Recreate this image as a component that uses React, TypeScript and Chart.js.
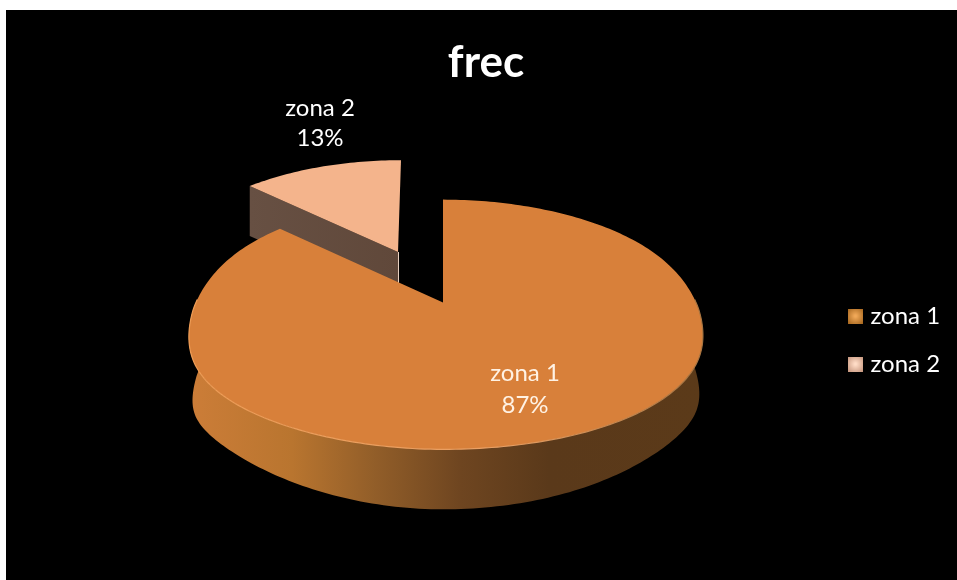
import React, { useEffect, useRef } from "react";
import { Chart, registerables } from "chart.js";

Chart.register(...registerables);

const categories = ["zona 1", "zona 2"];
const shares = [87, 13];
const chartTitle = "frec";
const sliceColors = ["#D8803A", "#F4B48C"];
const labelColors = ["#FFF2E4", "#FFFFFF"];

const FONT = "Lato, 'Open Sans', sans-serif";
const K = 0.176;

type Proj = { x: number; y: number; a: number; b: number; d: number; bend: number; shear: number; full: number };
const mainProj: Proj = { x: 437, y: 292.5, a: 253, b: 121, d: 46, bend: 3, shear: 0, full: 1 };
const sideProj: Proj = { x: 392, y: 242, a: 231, b: 108, d: 50, bend: 0, shear: -3, full: 0 };

function pt(p: Proj, u: number, v: number, down = 0): [number, number] {
  const w = 1 - K * v;
  const shrink = 1 - 0.014 * down * p.full;
  const fv = Math.max(v, 0);
  const fuller = p.full * fv * (u > 0 ? 16 * u * u : 18 * Math.abs(u * u * u));
  const bump = p.full * 9 * u * u * Math.exp(-((v - 0.2) * (v - 0.2)) / 0.25);
  const flank = p.full * (u > 0 ? 14 : 20) * Math.pow(Math.abs(u), 8);
  const depth = down * (p.d + p.full * 14 * fv * fv * fv + flank);
  return [
    p.x + ((p.a * u) / w) * shrink + p.bend * u * u + p.shear * v,
    p.y + (p.b * v) / w + fuller + bump + depth,
  ];
}

function rim(p: Proj, from: number, to: number, down = 0) {
  const n = Math.max(4, Math.ceil(Math.abs(to - from) / 0.02));
  const out: [number, number][] = [];
  for (let i = 0; i <= n; i++) {
    const t = from + ((to - from) * i) / n;
    out.push(pt(p, Math.cos(t), Math.sin(t), down));
  }
  return out;
}

function poly(ctx: CanvasRenderingContext2D, pts: [number, number][]) {
  ctx.beginPath();
  pts.forEach((q, i) => (i ? ctx.lineTo(q[0], q[1]) : ctx.moveTo(q[0], q[1])));
  ctx.closePath();
}

const pie3d = {
  id: "pie3d",
  beforeDatasetDraw(chart: any) {
    const ctx: CanvasRenderingContext2D = chart.ctx;
    const arcs = chart.getDatasetMeta(0).data;
    const big = arcs[0];
    const small = arcs[1];

    // detached slice, drawn behind the main body
    const s0 = small.startAngle;
    const s1 = small.endAngle;
    const tip = pt(sideProj, 0, 0);
    const left = pt(sideProj, Math.cos(s0), Math.sin(s0));
    const leftD = pt(sideProj, Math.cos(s0), Math.sin(s0), 1);
    const tipD = pt(sideProj, 0, 0, 1);
    const wg = ctx.createLinearGradient(left[0], 0, tip[0], 0);
    wg.addColorStop(0, "#675043");
    wg.addColorStop(1, "#60483A");
    poly(ctx, [left, tip, tipD, leftD]);
    ctx.fillStyle = wg;
    ctx.fill();
    poly(ctx, [tip, ...rim(sideProj, s1, s0)]);
    ctx.fillStyle = sliceColors[1];
    ctx.fill();
    ctx.strokeStyle = "#E8D0C0";
    ctx.lineWidth = 1;
    ctx.beginPath();
    ctx.moveTo(tip[0] + 0.5, tip[1]);
    ctx.lineTo(tipD[0] + 0.5, tipD[1]);
    ctx.stroke();

    // main body: front wall
    const front = rim(mainProj, -0.08, Math.PI + 0.08);
    const frontD = rim(mainProj, -0.08, Math.PI + 0.08, 1).reverse();
    const g = ctx.createLinearGradient(183, 0, 697, 0);
    g.addColorStop(0, "#CC7D38");
    g.addColorStop(0.2, "#B9752F");
    g.addColorStop(0.36, "#925E29");
    g.addColorStop(0.53, "#6E4520");
    g.addColorStop(0.7, "#5A391A");
    g.addColorStop(1, "#5B3A19");
    poly(ctx, [...front, ...frontD]);
    ctx.fillStyle = g;
    ctx.fill();

    // main body: top face
    poly(ctx, [pt(mainProj, 0, 0), ...rim(mainProj, big.startAngle, big.endAngle)]);
    ctx.fillStyle = sliceColors[0];
    ctx.fill();

    // light edge on the front rim
    const eg = ctx.createLinearGradient(183, 0, 697, 0);
    eg.addColorStop(0, "#EE9C55");
    eg.addColorStop(0.6, "#E9A065");
    eg.addColorStop(1, "#A87440");
    ctx.beginPath();
    front.forEach((q, i) => (i ? ctx.lineTo(q[0], q[1]) : ctx.moveTo(q[0], q[1])));
    ctx.strokeStyle = eg;
    ctx.lineWidth = 1.2;
    ctx.stroke();
    return false;
  },
  afterDatasetsDraw(chart: any) {
    const ctx: CanvasRenderingContext2D = chart.ctx;
    const total = shares.reduce((a, b) => a + b, 0);
    const spots = [
      { x: 519, y1: 363, y2: 395 },
      { x: 314, y1: 98, y2: 128 },
    ];
    ctx.save();
    ctx.font = `24px ${FONT}`;
    ctx.textAlign = "center";
    ctx.textBaseline = "middle";
    categories.forEach((c, i) => {
      ctx.fillStyle = labelColors[i];
      ctx.fillText(c, spots[i].x, spots[i].y1);
      ctx.fillText(`${Math.round((shares[i] / total) * 100)}%`, spots[i].x, spots[i].y2);
    });
    ctx.restore();
  },
};

const placeBlocks = {
  id: "placeBlocks",
  afterLayout(chart: any) {
    const t = chart.titleBlock;
    t.left += 4.5;
    t.right += 4.5;
    const l = chart.legend;
    const pad = l.options.labels.padding;
    const colH = l.columnSizes[0].height;
    const w = l.right - l.left;
    l.left = 822.5;
    l.right = l.left + w;
    l.top = 294 - pad;
    l.bottom = 294 + colH;
  },
};

function marker(center: string, edge: string) {
  const c = document.createElement("canvas");
  c.width = 15;
  c.height = 15;
  const x = c.getContext("2d")!;
  const g = x.createRadialGradient(7.5, 7.5, 1, 7.5, 7.5, 10);
  g.addColorStop(0, center);
  g.addColorStop(1, edge);
  x.fillStyle = g;
  x.fillRect(0, 0, 15, 15);
  return c;
}

export default function App() {
  const ref = useRef<HTMLCanvasElement>(null);
  useEffect(() => {
    const markers = [marker("#F0A858", "#A86820"), marker("#FFDCC6", "#C89880")];
    const chart = new Chart(ref.current!, {
      type: "pie",
      data: {
        labels: categories,
        datasets: [{ data: shares, backgroundColor: sliceColors, borderWidth: 0 }],
      },
      options: {
        responsive: false,
        animation: false,
        rotation: 0,
        layout: { padding: 0 },
        plugins: {
          tooltip: { enabled: false },
          title: {
            display: true,
            text: chartTitle,
            color: "#FFFFFF",
            font: { family: FONT, size: 44, weight: "bold" },
            padding: { top: 26, bottom: 10 },
          },
          legend: {
            position: "right",
            labels: {
              color: "#FFFFFF",
              font: { family: FONT, size: 24 },
              usePointStyle: true,
              boxWidth: 6,
              pointStyleWidth: 6,
              boxHeight: 15,
              padding: 24,
              generateLabels: () =>
                categories.map((text, i) => ({
                  text,
                  index: i,
                  fontColor: "#FFFFFF",
                  fillStyle: sliceColors[i],
                  strokeStyle: sliceColors[i],
                  lineWidth: 0,
                  pointStyle: markers[i],
                  hidden: false,
                })),
            },
          },
        },
      },
      plugins: [pie3d, placeBlocks],
    } as any);
    return () => chart.destroy();
  }, []);
  return (
    <div style={{ position: "absolute", left: 6, top: 10, width: 951, height: 570, background: "#000" }}>
      <canvas ref={ref} width={951} height={570} style={{ display: "block" }} />
    </div>
  );
}
